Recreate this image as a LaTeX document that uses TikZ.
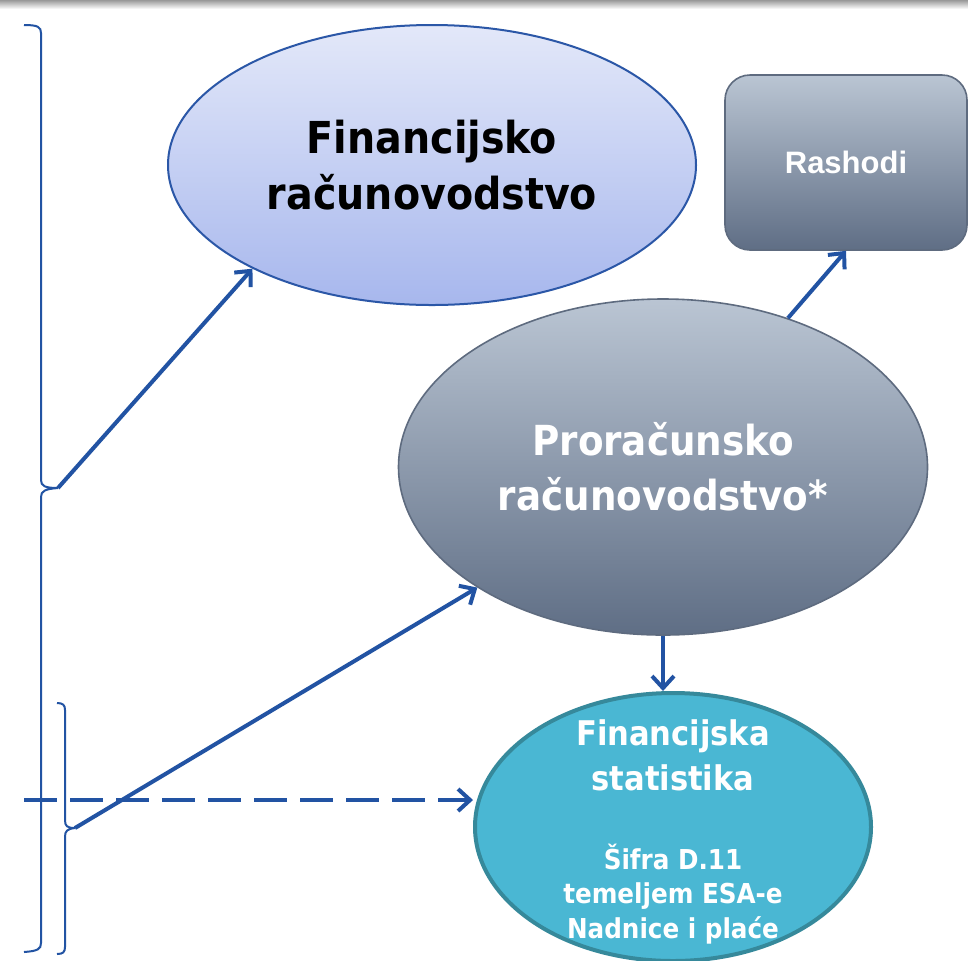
\documentclass[tikz,border=0pt]{standalone}
\usepackage{fontspec}
\setmainfont{DejaVu Sans}
\newfontfamily\cond{DejaVu Sans Condensed Bold}
\newfontfamily\ari{Liberation Sans}
\usetikzlibrary{shapes.geometric,arrows.meta}
\definecolor{cblue}{HTML}{2253A3}
\definecolor{finTop}{HTML}{E3E8F9}
\definecolor{finBot}{HTML}{A7B7ED}
\definecolor{finBorder}{HTML}{2B57A7}
\definecolor{grayTop}{HTML}{BAC5D3}
\definecolor{grayBot}{HTML}{5F6E85}
\definecolor{grayBorder}{HTML}{5E6B7F}
\definecolor{fsFill}{HTML}{4AB7D3}
\definecolor{fsBorder}{HTML}{36899B}
\begin{document}
\begin{tikzpicture}[x=0.5pt,y=-0.5pt,
  conn/.style={draw=cblue,line width=2pt,-{Straight Barb[length=6pt,width=11pt]}},
  dashconn/.style={conn,dash pattern=on 16.5pt off 6.5pt},
  bracepath/.style={draw=cblue,line width=1pt},
  ell/.style={ellipse,inner sep=0pt,align=center},
  grayfill/.style={top color=grayTop,bottom color=grayBot,draw=grayBorder,line width=0.8pt}]
\clip (0,0) rectangle (968,960);
\fill[white] (0,0) rectangle (968,960);
\shade[top color=black!40,bottom color=white] (0,0) rectangle (968,9);

% nodes
\node[ell,draw=finBorder,line width=1pt,top color=finTop,bottom color=finBot,
  minimum width=264pt,minimum height=140pt,text=black,
  font=\cond\fontsize{22}{28}\selectfont] (fin) at (432,165) {Financijsko\\računovodstvo};
\node[grayfill,rounded corners=12.5pt,minimum width=121pt,minimum height=87.5pt,
  text=white,font=\ari\bfseries\fontsize{15.5}{18}\selectfont] (ras) at (846,162.5) {Rashodi};
\node[ell,grayfill,minimum width=264.5pt,minimum height=168pt,text=white,
  font=\cond\fontsize{20.7}{27.5}\selectfont] (pro) at (663,467) {Proračunsko\\računovodstvo*};
\node[ell,fill=fsFill,draw=fsBorder,line width=2pt,minimum width=198pt,minimum height=134pt] (fs) at (673,827) {};
\node[align=center,text=white,inner sep=0pt,font=\cond\fontsize{17}{22.5}\selectfont] (fst) at (673,755) {Financijska\\statistika};
\node[align=center,text=white,inner sep=0pt,font=\cond\fontsize{13.7}{17.2}\selectfont] (fsd) at (673,894) {Šifra D.11\\temeljem ESA-e\\Nadnice i plaće};

% braces
\coordinate (bt) at (58,488);
\coordinate (st) at (75,828);
\coordinate (ds) at (24,800);
\draw[bracepath] (24,25) .. controls (38,25) and (41,27) .. (41,33) -- (41,480)
  .. controls (41,486) and (45,488) .. (bt)
  .. controls (45,489) and (41,491) .. (41,497) -- (41,943)
  .. controls (41,949) and (38,951) .. (24,952);
\draw[bracepath] (57,703) .. controls (63,703) and (65,705) .. (65,710) -- (65,820)
  .. controls (65,826) and (67,828) .. (st)
  .. controls (67,829) and (65,831) .. (65,837) -- (65,947)
  .. controls (65,952) and (63,954) .. (57,954);

% connectors
\draw[conn] (bt) -- (fin.210);
\draw[conn] (st) -- (pro.213);
\draw[conn] (pro.50) -- (ras.south);
\draw[conn] (pro.south) -- (pro.south |- fs.north);
\draw[dashconn] (ds) -- (ds -| fs.west);
\end{tikzpicture}
\end{document}
